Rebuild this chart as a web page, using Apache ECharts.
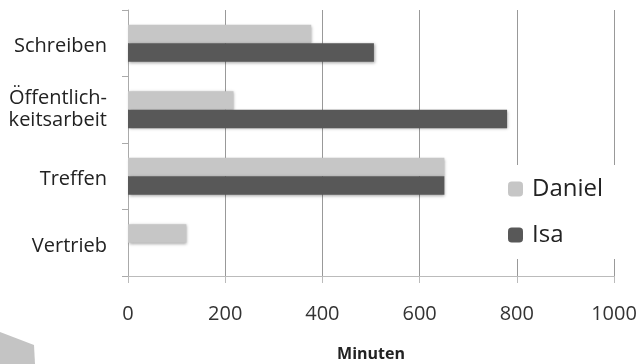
<!DOCTYPE html>
<html><head><meta charset="utf-8">
<script src="https://cdn.jsdelivr.net/npm/echarts@6/dist/echarts.min.js"></script>
<style>html,body{margin:0;padding:0;background:#fff}#c{width:639px;height:364px}</style>
</head><body><div id="c"></div>
<script>
const categories = ['Schreiben', 'Öffentlich-\nkeitsarbeit', 'Treffen', 'Vertrieb'];
const danielValues = [377, 217, 651, 120];
const isaValues = [506, 780, 651, 0];
const xTicks = { min: 0, max: 1000, interval: 200 };
const seriesNames = ['Daniel', 'Isa'];

const chart = echarts.init(document.getElementById('c'));
const font = '"Open Sans", "Noto Sans", sans-serif';
const shadow = { shadowColor: 'rgba(0,0,0,0.35)', shadowBlur: 3, shadowOffsetX: 1, shadowOffsetY: 1 };
chart.setOption({
  animation: false,
  backgroundColor: '#fff',
  grid: { left: 128, right: 25, top: 10, bottom: 88, containLabel: false, outerBoundsMode: 'none' },
  legend: {
    orient: 'vertical', left: 498, top: 165,
    data: seriesNames,
    itemWidth: 15, itemHeight: 15, itemGap: 22,
    backgroundColor: '#fff', padding: [12, 16, 12, 10],
    textStyle: { fontFamily: font, fontSize: 24, lineHeight: 24, color: '#222', padding: [0, 0, 0, 4] }
  },
  xAxis: {
    type: 'value', min: xTicks.min, max: xTicks.max, interval: xTicks.interval,
    name: 'Minuten', nameLocation: 'middle', nameGap: 70,
    nameTextStyle: { fontFamily: font, fontSize: 16, fontWeight: 'bold', color: '#222' },
    axisLine: { show: true, lineStyle: { color: '#bbb' } },
    axisTick: { show: true, length: 7, lineStyle: { color: '#bbb' } },
    axisLabel: { fontFamily: font, fontSize: 20, color: '#333', margin: 28,
      formatter: function (v) { return String(v); } },
    splitLine: { show: true, lineStyle: { color: '#999' } }
  },
  yAxis: {
    type: 'category', data: categories, inverse: true,
    axisLine: { show: true, lineStyle: { color: '#aaa' } },
    axisTick: { show: true, length: 6, lineStyle: { color: '#aaa' } },
    axisLabel: {
      fontFamily: font, fontSize: 20, color: '#222', margin: 21, lineHeight: 22,
      formatter: function (v) {
        var lines = v.split('\n');
        if (lines.length === 1) return '{f|' + v + '}';
        return lines.map(function (s) { return '{n|' + s + '}'; }).join('\n');
      },
      rich: {
        f: { fontFamily: font, fontSize: 20, color: '#222', lineHeight: 22, padding: [7, 0, 0, 0] },
        n: { fontFamily: font, fontSize: 20, color: '#222', lineHeight: 22 }
      }
    }
  },
  series: [
    { name: seriesNames[0], type: 'bar', data: danielValues, barGap: '0%', barCategoryGap: '44%',
      itemStyle: Object.assign({ color: '#c6c6c6' }, shadow) },
    { name: seriesNames[1], type: 'bar', data: isaValues, barGap: '0%', barCategoryGap: '44%',
      itemStyle: Object.assign({ color: '#585858' }, shadow) }
  ],
  graphic: [{
    type: 'polygon', z: 100,
    shape: { points: [[0, 332], [34, 345], [35, 364], [0, 364]] },
    style: { fill: '#c4c4c4' }
  }]
});
</script></body></html>
